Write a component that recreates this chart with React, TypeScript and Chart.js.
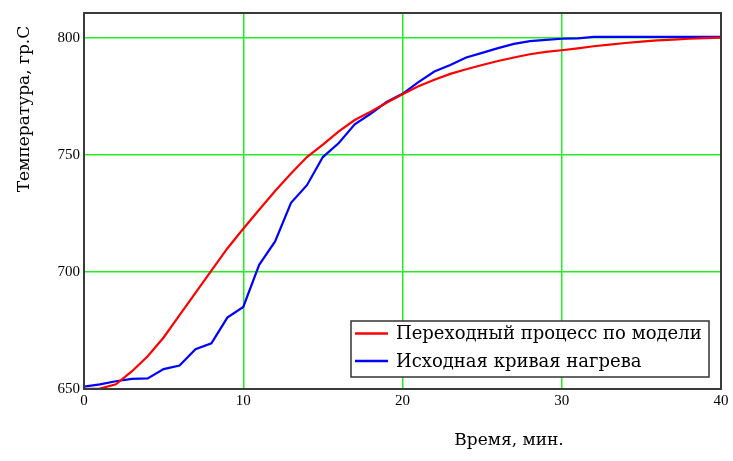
import React, { useEffect, useRef } from "react";
import { Chart, registerables } from "chart.js";

Chart.register(...registerables);

const times = [0,1,2,3,4,5,6,7,8,9,10,11,12,13,14,15,16,17,18,19,20,21,22,23,24,25,26,27,28,29,30,31,32,33,34,35,36,37,38,39,40];
const modelTemps = [650,650.2,652,657.5,664,672,681.5,691,700.5,710,718.4,726.5,734.5,742,749,754.3,760,764.8,768.4,772.2,775.8,779.2,782,784.5,786.5,788.3,790,791.5,792.9,793.9,794.6,795.4,796.3,797,797.7,798.3,798.8,799.1,799.5,799.8,800];
const measuredTemps = [651,652,653.3,654.3,654.5,658.5,660,667,669.5,680.5,685,703,713,729.5,737,749,755,763,767.5,772.5,776,781,785.5,788.3,791.5,793.5,795.5,797.3,798.5,799,799.5,799.7,800.3,800.3,800.3,800.3,800.3,800.3,800.3,800.3,800.3];
const modelLabel = "Переходный процесс по модели";
const measuredLabel = "Исходная кривая нагрева";
const xTicks = [0, 10, 20, 30, 40];
const yTicks = [650, 700, 750, 800];
const xTitle = "Время, мин.";
const yTitle = "Температура, гр.С";

const SERIF = "'Liberation Serif', 'Times New Roman', serif";
const WIDE = "'DejaVu Serif', serif";

const overlayPlugin = {
  id: "overlay",
  afterDraw(chart: any) {
    const { ctx, chartArea } = chart;
    ctx.save();
    // frame
    ctx.strokeStyle = "#3a3a3a";
    ctx.lineWidth = 2;
    ctx.strokeRect(chartArea.left, chartArea.top, chartArea.right - chartArea.left, chartArea.bottom - chartArea.top);
    // x title
    ctx.fillStyle = "#000";
    ctx.font = `17px ${WIDE}`;
    ctx.textAlign = "center";
    ctx.textBaseline = "middle";
    ctx.fillText(xTitle, 509, 441);
    // y title
    ctx.save();
    ctx.translate(25, 109);
    ctx.rotate(-Math.PI / 2);
    ctx.fillText(yTitle, 0, 0);
    ctx.restore();
    // legend
    const lx = 351, ly = 321, lw = 358, lh = 56;
    ctx.fillStyle = "#fff";
    ctx.fillRect(lx, ly, lw, lh);
    ctx.strokeStyle = "#333";
    ctx.lineWidth = 1.5;
    ctx.strokeRect(lx, ly, lw, lh);
    const items = chart.data.datasets;
    const rows = [333.5, 361];
    items.forEach((ds: any, i: number) => {
      ctx.strokeStyle = ds.borderColor;
      ctx.lineWidth = 2.5;
      ctx.beginPath();
      ctx.moveTo(355, rows[i]);
      ctx.lineTo(388, rows[i]);
      ctx.stroke();
      ctx.fillStyle = "#000";
      ctx.textAlign = "left";
      ctx.font = `18px ${WIDE}`;
      ctx.fillText(ds.label, 396, rows[i] + 1);
    });
    ctx.restore();
  },
};

export default function App() {
  const ref = useRef<HTMLCanvasElement>(null);
  useEffect(() => {
    if (!ref.current) return;
    const chart = new Chart(ref.current, {
      type: "line",
      data: {
        datasets: [
          {
            label: modelLabel,
            data: times.map((t, i) => ({ x: t, y: modelTemps[i] })),
            borderColor: "#ff0000",
            borderWidth: 2.2,
            pointRadius: 0,
            tension: 0,
            fill: false,
          },
          {
            label: measuredLabel,
            data: times.map((t, i) => ({ x: t, y: measuredTemps[i] })),
            borderColor: "#0000ff",
            borderWidth: 2.2,
            pointRadius: 0,
            tension: 0,
            fill: false,
          },
        ],
      },
      options: {
        animation: false,
        responsive: false,
        devicePixelRatio: 1,
        layout: { padding: { left: 0, top: 8, right: 12, bottom: 0 } },
        plugins: { legend: { display: false }, tooltip: { enabled: false } },
        scales: {
          x: {
            type: "linear",
            min: 0,
            max: 40,
            afterBuildTicks: (s: any) => { s.ticks = xTicks.map((v) => ({ value: v })); },
            afterFit: (s: any) => { s.height = 72; },
            ticks: { color: "#000", font: { family: SERIF, size: 15 }, padding: 3, maxRotation: 0 },
            grid: {
              color: (c: any) => (c.tick && (c.tick.value === 0 || c.tick.value === 40) ? "rgba(0,0,0,0)" : "#22ee22"),
              lineWidth: 1.5,
              drawTicks: false,
            },
            border: { display: false },
          },
          y: {
            type: "linear",
            min: 650,
            max: 810.5,
            afterBuildTicks: (s: any) => { s.ticks = yTicks.map((v) => ({ value: v })); },
            afterFit: (s: any) => { s.width = 84; },
            ticks: { color: "#000", font: { family: SERIF, size: 15 }, padding: 4 },
            grid: {
              color: (c: any) => (c.tick && c.tick.value === 650 ? "rgba(0,0,0,0)" : "#22ee22"),
              lineWidth: 1.5,
              drawTicks: false,
            },
            border: { display: false },
          },
        },
      },
      plugins: [overlayPlugin],
    });
    return () => chart.destroy();
  }, []);
  return (
    <div style={{ position: "fixed", left: 0, top: 0, width: 733, height: 461, background: "#fff" }}>
      <canvas ref={ref} width={733} height={461} style={{ display: "block" }} />
    </div>
  );
}
